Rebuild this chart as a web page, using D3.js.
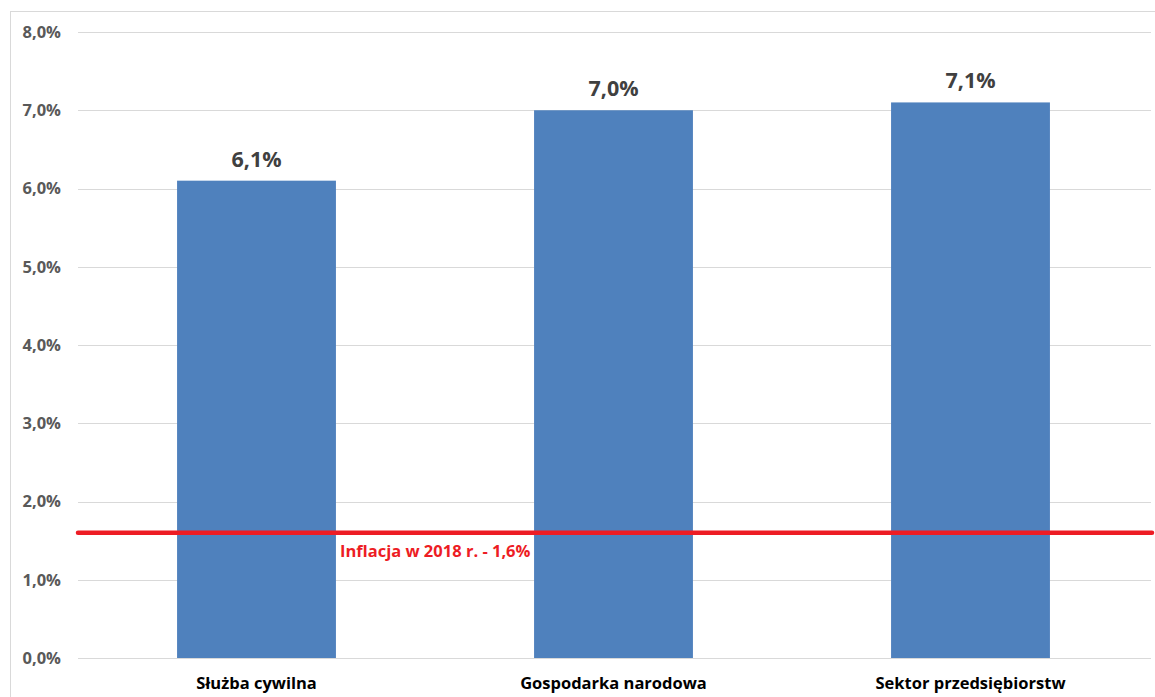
<!DOCTYPE html>
<html>
<head>
<meta charset="utf-8">
<script src="https://cdn.jsdelivr.net/npm/d3@7"></script>
<style>
  body { margin: 0; background: #fff; }
  svg { display: block; font-family: "Open Sans", "Liberation Sans", sans-serif; }
</style>
</head>
<body>
<svg id="chart" width="1155" height="697"></svg>
<script>
// Wage growth in 2018 by sector
const categories = ["Służba cywilna", "Gospodarka narodowa", "Sektor przedsiębiorstw"];
const values = [6.1, 7.0, 7.1];
const valueLabels = ["6,1%", "7,0%", "7,1%"];
const yTicks = [0, 1, 2, 3, 4, 5, 6, 7, 8];
const yTickLabels = ["0,0%", "1,0%", "2,0%", "3,0%", "4,0%", "5,0%", "6,0%", "7,0%", "8,0%"];
const inflation = 1.6;
const inflationLabel = "Inflacja w 2018 r. - 1,6%";

const svg = d3.select("#chart");
const plot = { left: 78, right: 1149, top: 32, bottom: 658 };

// outer frame
svg.append("rect")
  .attr("x", 10.5).attr("y", 11.5)
  .attr("width", 1160).attr("height", 700)
  .attr("fill", "none").attr("stroke", "#d9d9d9").attr("stroke-width", 1);

const x = d3.scaleBand()
  .domain(categories)
  .range([plot.left, plot.right])
  .paddingInner(0.555)
  .paddingOuter(0.2775);

const y = d3.scaleLinear().domain([0, 8]).range([plot.bottom, plot.top]);

// gridlines
svg.append("g")
  .selectAll("line")
  .data(yTicks)
  .join("line")
  .attr("x1", plot.left).attr("x2", plot.right + 2)
  .attr("y1", d => Math.round(y(d)) + 0.5).attr("y2", d => Math.round(y(d)) + 0.5)
  .attr("stroke", "#d9d9d9").attr("stroke-width", 1);

// y axis labels
const yAxis = d3.axisLeft(y)
  .tickValues(yTicks)
  .tickFormat((d, i) => yTickLabels[i])
  .tickSize(0)
  .tickPadding(0);
const yg = svg.append("g").attr("transform", `translate(61,0)`).call(yAxis);
yg.select(".domain").remove();
yg.selectAll("text")
  .attr("fill", "#595959")
  .style("font-size", "16.5px")
  .style("font-weight", "bold")
  .style("font-family", "'Open Sans', sans-serif");

// bars
svg.append("g")
  .selectAll("rect")
  .data(values)
  .join("rect")
  .attr("x", (d, i) => x(categories[i]))
  .attr("y", d => y(d))
  .attr("width", x.bandwidth())
  .attr("height", d => y(0) - y(d))
  .attr("fill", "#4f81bd");

// value labels
svg.append("g")
  .selectAll("text")
  .data(values)
  .join("text")
  .attr("x", (d, i) => x(categories[i]) + x.bandwidth() / 2)
  .attr("y", d => y(d) - 14)
  .attr("text-anchor", "middle")
  .attr("fill", "#404040")
  .style("font-size", "21.5px")
  .style("font-weight", "bold")
  .text((d, i) => valueLabels[i]);

// x axis category labels
const xAxis = d3.axisBottom(x).tickSize(0).tickPadding(0);
const xg = svg.append("g").attr("transform", `translate(0,${plot.bottom + 16})`).call(xAxis);
xg.select(".domain").remove();
xg.selectAll("text")
  .attr("fill", "#000")
  .attr("dy", "0.9em")
  .style("font-size", "16.5px")
  .style("font-weight", "bold")
  .style("font-family", "'Open Sans', sans-serif");

// inflation line
svg.append("line")
  .attr("x1", plot.left).attr("x2", plot.right + 3)
  .attr("y1", y(inflation)).attr("y2", y(inflation))
  .attr("stroke", "#ed1c24").attr("stroke-width", 4.5)
  .attr("stroke-linecap", "round");

svg.append("text")
  .attr("x", 340)
  .attr("y", y(inflation) + 24)
  .attr("fill", "#ed1c24")
  .style("font-size", "16.5px")
  .style("font-weight", "bold")
  .text(inflationLabel);
</script>
</body>
</html>
